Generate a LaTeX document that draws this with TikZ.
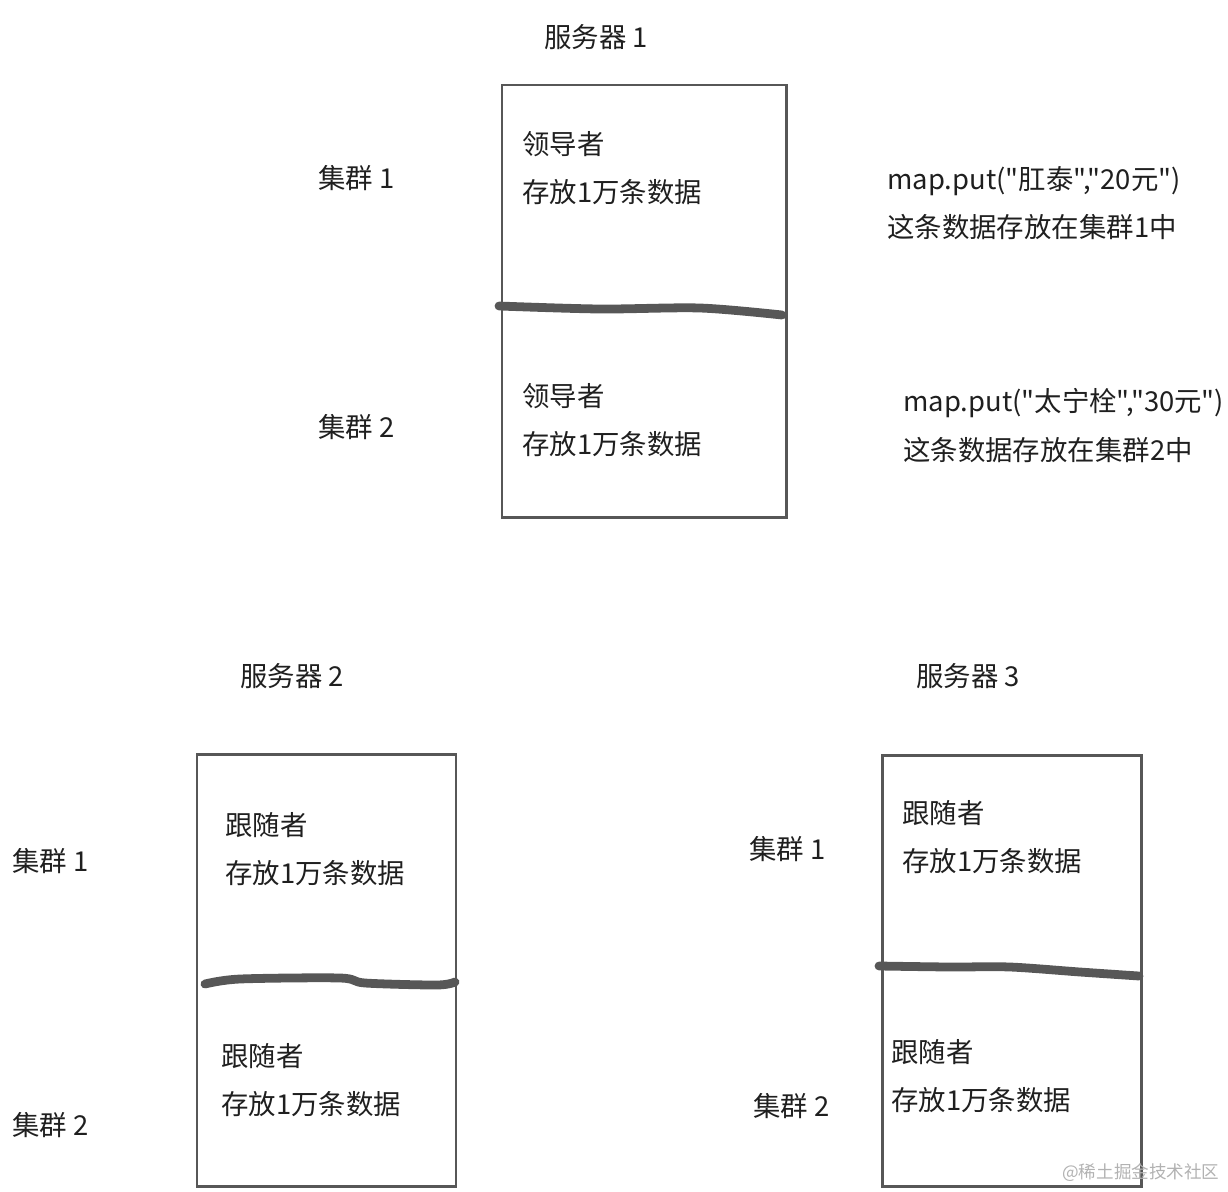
\documentclass[tikz,border=0pt]{standalone}
\usepackage{fontspec}
\newfontfamily\cjk{Noto Sans CJK SC}

\begin{document}
\begin{tikzpicture}[x=0.02cm,y=-0.02cm,
  lbl/.style={anchor=west,inner sep=0pt,text=black!88,font=\cjk\fontsize{15.6pt}{19pt}\selectfont},
  frame/.style={draw=black!66,line width=1.7pt},
  cut/.style={draw=black!66,line width=5pt,line cap=round,line join=round}]
  \useasboundingbox (0,0) rectangle (1228,1191);
  % server 1
  \draw[frame] (502,85) rectangle (786,517);
  \draw[cut] plot[smooth] coordinates {(499,306) (600,309) (700,308) (782,315)};
  \node[lbl] (s1) at (544,37) {服务器 1};
  \node[lbl] (s1c1) at (318,178) {集群 1};
  \node[lbl] (s1c2) at (318,427) {集群 2};
  \node[lbl] (s1r1) at (522,144) {领导者};
  \node[lbl] (s1d1) at (522,192) {存放1万条数据};
  \node[lbl] (s1r2) at (522,396) {领导者};
  \node[lbl] (s1d2) at (522,444) {存放1万条数据};
  \node[lbl] (put1) at (887,181) {map.put("肛泰","20元")};
  \node[lbl] (put1n) at (887,227) {这条数据存放在集群1中};
  \node[lbl] (put2) at (903,403) {map.put("太宁栓","30元")};
  \node[lbl] (put2n) at (903,450) {这条数据存放在集群2中};
  % server 2
  \draw[frame] (197,754) rectangle (456,1186);
  \draw[cut] plot[smooth] coordinates {(205,984) (240,979) (340,978) (365,983) (437,985) (455,982)};
  \node[lbl] (s2) at (240,676) {服务器 2};
  \node[lbl] (s2c1) at (12,861) {集群 1};
  \node[lbl] (s2c2) at (12,1125) {集群 2};
  \node[lbl] (s2r1) at (225,825) {跟随者};
  \node[lbl] (s2d1) at (225,873) {存放1万条数据};
  \node[lbl] (s2r2) at (221,1056) {跟随者};
  \node[lbl] (s2d2) at (221,1104) {存放1万条数据};
  % server 3
  \draw[frame] (882,755) rectangle (1141,1186);
  \draw[cut] plot[smooth] coordinates {(879,966) (950,967) (1010,967) (1080,972) (1139,976)};
  \node[lbl] (s3) at (916,676) {服务器 3};
  \node[lbl] (s3c1) at (749,849) {集群 1};
  \node[lbl] (s3c2) at (753,1106) {集群 2};
  \node[lbl] (s3r1) at (902,813) {跟随者};
  \node[lbl] (s3d1) at (902,861) {存放1万条数据};
  \node[lbl] (s3r2) at (891,1052) {跟随者};
  \node[lbl] (s3d2) at (891,1100) {存放1万条数据};
  \node[lbl,text=black!30,font=\cjk\fontsize{10pt}{12pt}\selectfont] (mark) at (1062,1173) {@稀土掘金技术社区};
\end{tikzpicture}
\end{document}
